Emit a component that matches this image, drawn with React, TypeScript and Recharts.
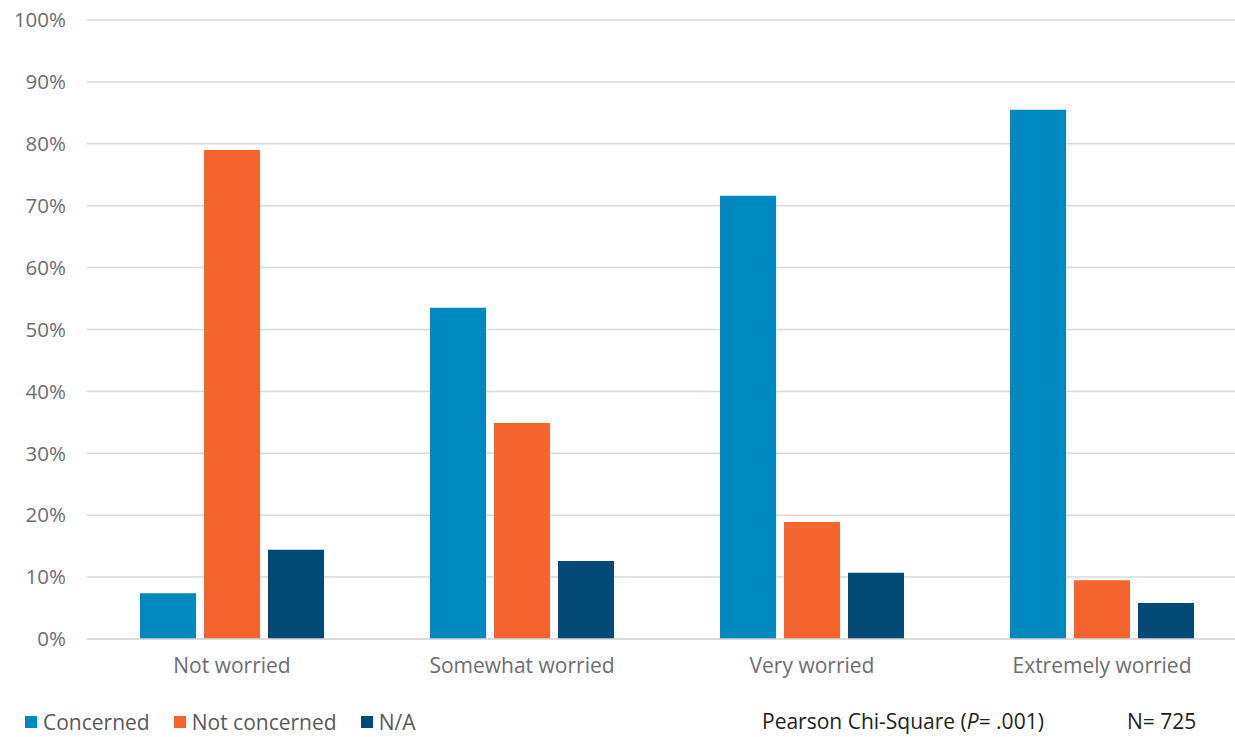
import React from 'react';
import { BarChart, Bar, XAxis, YAxis, CartesianGrid, Legend } from 'recharts';

const categories = ['Not worried', 'Somewhat worried', 'Very worried', 'Extremely worried'];
const concerned = [7.4, 53.5, 71.6, 85.5];
const notConcerned = [79.0, 34.9, 18.9, 9.5];
const notApplicable = [14.4, 12.6, 10.7, 5.8];
const yTicks = [0, 10, 20, 30, 40, 50, 60, 70, 80, 90, 100];

const seriesList = [
  { key: 'concerned', name: 'Concerned', color: '#0089bf' },
  { key: 'notConcerned', name: 'Not concerned', color: '#f4642e' },
  { key: 'na', name: 'N/A', color: '#004a75' },
];

const data = categories.map((c, i) => ({
  category: c,
  concerned: concerned[i],
  notConcerned: notConcerned[i],
  na: notApplicable[i],
}));

const FONT = '"Open Sans", sans-serif';

// legend drawn as plain boxes + labels like the original
const LegendContent = () => (
  <div style={{ height: 48, boxSizing: 'border-box', paddingTop: 18, display: 'flex', alignItems: 'center', paddingLeft: 25, fontFamily: FONT, fontSize: 21, color: '#58595b' }}>
    {seriesList.map((s) => (
      <div key={s.key} style={{ display: 'flex', alignItems: 'center', marginRight: 24 }}>
        <span style={{ display: 'inline-block', width: 12, height: 12, background: s.color, marginRight: 6 }} />
        <span>{s.name}</span>
      </div>
    ))}
  </div>
);

const App: React.FC = () => {
  return (
    <div style={{ position: 'absolute', left: 0, top: 0, width: 1235, height: 737, overflow: 'hidden', background: '#fff' }}>
      <BarChart
        width={1247}
        height={737}
        data={data}
        margin={{ top: 20, right: 0, left: 0, bottom: 0 }}
        barSize={56}
        barGap={8}
      >
        <CartesianGrid vertical={false} stroke="#d9d9d9" strokeWidth={1.5} />
        <XAxis
          dataKey="category"
          height={50}
          axisLine={{ stroke: '#d9d9d9', strokeWidth: 1.5 }}
          tickLine={false}
          tickSize={0}
          tickMargin={19}
          tick={{ fill: '#6d6e71', fontSize: 21, fontFamily: FONT }}
          interval={0}
        />
        <YAxis
          width={87}
          domain={[0, 100]}
          ticks={yTicks}
          tickFormatter={(v) => `${v}%`}
          axisLine={false}
          tickLine={false}
          tickSize={0}
          tickMargin={21}
          tick={{ fill: '#6d6e71', fontSize: 20.5, fontFamily: FONT }}
        />
        <Legend verticalAlign="bottom" align="left" content={<LegendContent />} />
        {seriesList.map((s) => (
          <Bar key={s.key} dataKey={s.key} name={s.name} fill={s.color} isAnimationActive={false} />
        ))}
      </BarChart>
      <div style={{ position: 'absolute', left: 762, top: 707, fontFamily: FONT, fontSize: 21, color: '#231f20', whiteSpace: 'nowrap' }}>
        Pearson Chi-Square (<i>P</i>= .001)
      </div>
      <div style={{ position: 'absolute', left: 1127, top: 707, fontFamily: FONT, fontSize: 21, color: '#231f20', whiteSpace: 'nowrap' }}>
        N= 725
      </div>
    </div>
  );
};

export default App;
